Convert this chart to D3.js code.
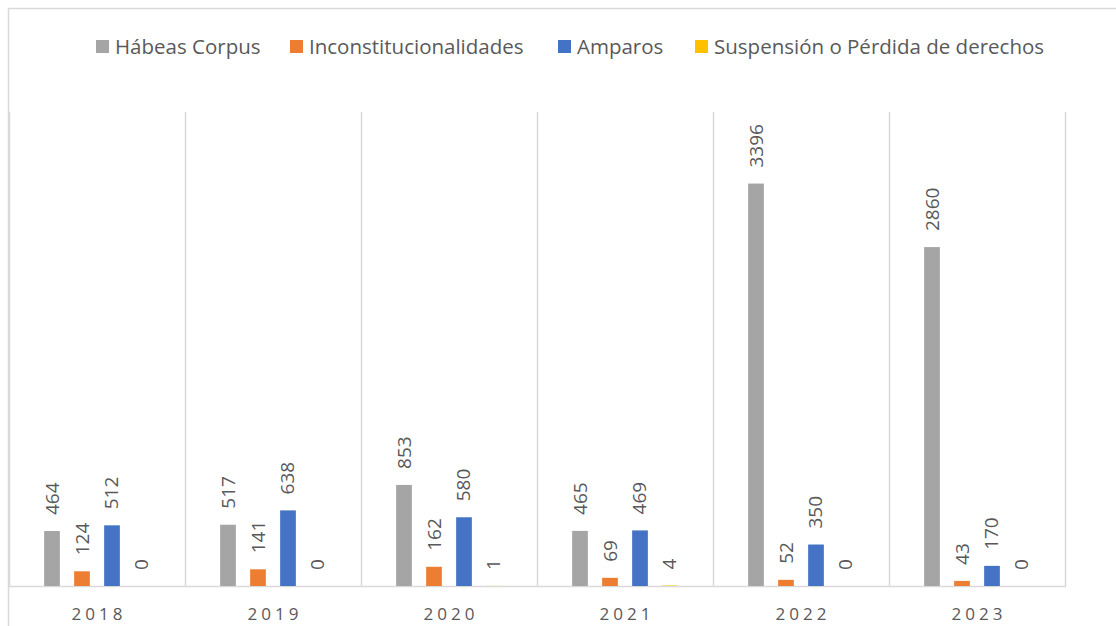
<!DOCTYPE html>
<html>
<head>
<meta charset="utf-8">
<script src="https://cdn.jsdelivr.net/npm/d3@7"></script>
<style>
  body { margin: 0; background: #fff; }
  text { font-family: "Open Sans", sans-serif; fill: #595959; }
</style>
</head>
<body>
<script>
// Data
const years = ["2018", "2019", "2020", "2021", "2022", "2023"];
const seriesNames = ["Hábeas Corpus", "Inconstitucionalidades", "Amparos", "Suspensión o Pérdida de derechos"];
const habeasCorpus = [464, 517, 853, 465, 3396, 2860];
const inconstitucionalidades = [124, 141, 162, 69, 52, 43];
const amparos = [512, 638, 580, 469, 350, 170];
const suspension = [0, 0, 1, 4, 0, 0];
const colors = ["#A5A5A5", "#ED7D31", "#4472C4", "#FFC000"];

const seriesValues = [habeasCorpus, inconstitucionalidades, amparos, suspension];

const width = 1116, height = 626;
const plot = { left: 9, right: 1065, top: 112, bottom: 586 };

const svg = d3.select("body").append("svg")
  .attr("width", width)
  .attr("height", height);

// chart border
svg.append("path")
  .attr("d", `M8.5,${height} V8.5 H${width}`)
  .attr("fill", "none")
  .attr("stroke", "#D9D9D9")
  .attr("stroke-width", 1.5);

const x = d3.scaleBand().domain(years).range([plot.left, plot.right]);
const xInner = d3.scaleBand().domain(d3.range(4))
  .range([0, x.bandwidth()])
  .paddingInner(0.477)
  .paddingOuter(1.172);
const y = d3.scaleLinear().domain([0, 4000]).range([plot.bottom, plot.top]);

// category separators
svg.append("g")
  .selectAll("line")
  .data(years.concat(["end"]))
  .join("line")
  .attr("x1", (d, i) => Math.round(plot.left + i * x.step()) + 0.5)
  .attr("x2", (d, i) => Math.round(plot.left + i * x.step()) + 0.5)
  .attr("y1", plot.top)
  .attr("y2", plot.bottom)
  .attr("stroke", "#D9D9D9")
  .attr("stroke-width", 1.5);

// baseline
svg.append("line")
  .attr("x1", plot.left)
  .attr("x2", plot.right + 1)
  .attr("y1", plot.bottom + 0.5)
  .attr("y2", plot.bottom + 0.5)
  .attr("stroke", "#D9D9D9")
  .attr("stroke-width", 1.5);

const rows = years.map((yr, i) => ({ year: yr, values: seriesValues.map(s => s[i]) }));

const group = svg.append("g").selectAll("g")
  .data(rows)
  .join("g")
  .attr("transform", d => `translate(${x(d.year)},0)`);

group.selectAll("rect")
  .data(d => d.values.map((v, k) => ({ v, k })))
  .join("rect")
  .attr("x", d => xInner(d.k))
  .attr("width", xInner.bandwidth())
  .attr("y", d => y(d.v))
  .attr("height", d => y(0) - y(d.v))
  .attr("fill", d => colors[d.k]);

// rotated value labels
group.selectAll("text")
  .data(d => d.values.map((v, k) => ({ v, k })))
  .join("text")
  .attr("transform", d => `translate(${xInner(d.k) + xInner.bandwidth() / 2 + 6.5},${y(d.v) - 16}) rotate(-90)`)
  .attr("text-anchor", "start")
  .attr("font-size", 19)
  .attr("fill", "#737373")
  .text(d => d.v);

// x axis labels
svg.append("g").selectAll("text")
  .data(years)
  .join("text")
  .attr("x", d => x(d) + x.bandwidth() / 2 + 2)
  .attr("y", 620)
  .attr("text-anchor", "middle")
  .attr("font-size", 17)
  .attr("letter-spacing", 4)
  .text(d => d);

// legend
const legendX = [96, 290, 558, 695];
const legend = svg.append("g").selectAll("g")
  .data(seriesNames)
  .join("g")
  .attr("transform", (d, i) => `translate(${legendX[i]},40)`);

legend.append("rect")
  .attr("width", 13)
  .attr("height", 13)
  .attr("fill", (d, i) => colors[i]);

legend.append("text")
  .attr("x", 19)
  .attr("y", 13.5)
  .attr("font-size", 20.5)
  .text(d => d);
</script>
</body>
</html>
